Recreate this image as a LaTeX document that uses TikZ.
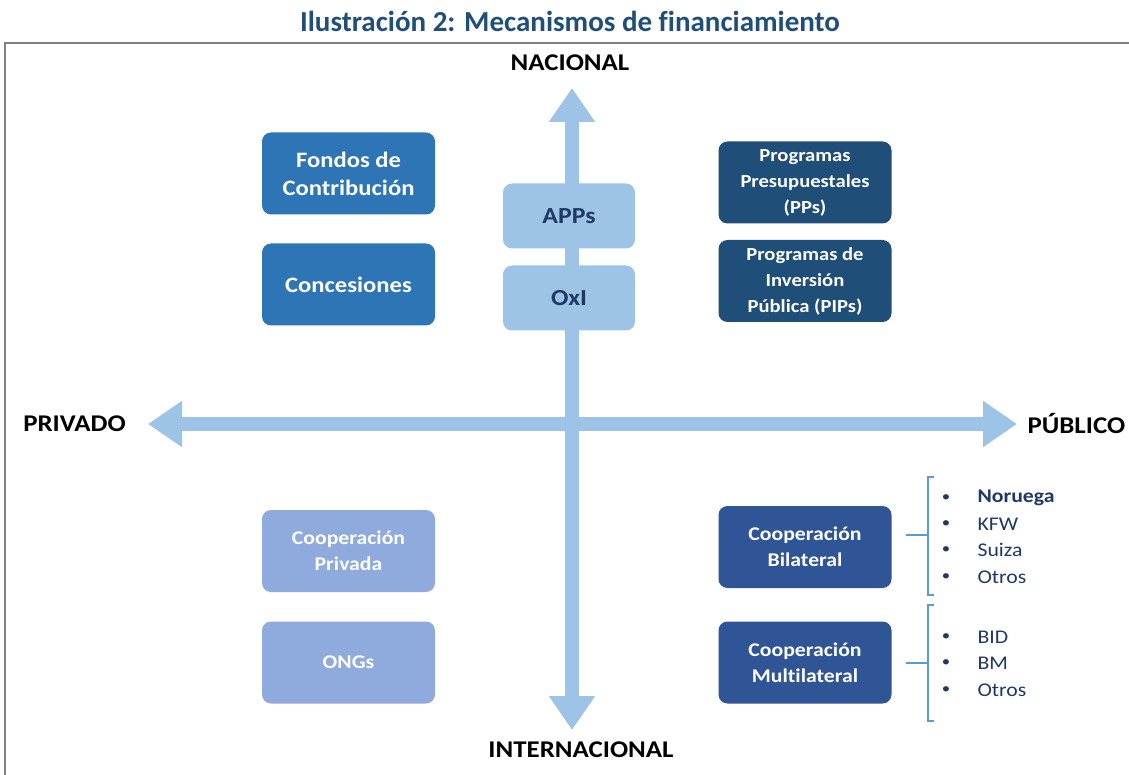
\documentclass[tikz,border=0pt]{standalone}
\usepackage{fontspec}
\setmainfont{Carlito}[Ligatures=NoCommon, FakeStretch=1.12]
\newfontfamily\titlefont{Carlito}[Ligatures=NoCommon]
\usepackage{tikz}
\usetikzlibrary{shapes.geometric, arrows.meta, positioning}

\definecolor{titleblue}{HTML}{1F4E79}
\definecolor{axisblue}{HTML}{9DC3E6}
\definecolor{midblue}{HTML}{2E75B6}
\definecolor{darkblue}{HTML}{1F4E79}
\definecolor{coopblue}{HTML}{2F5597}
\definecolor{paleblue}{HTML}{8FAADC}
\definecolor{navytext}{HTML}{1F3864}
\definecolor{braceblue}{HTML}{5B9BD5}

\tikzset{
	mbox/.style={rounded corners=9pt, minimum width=173pt, minimum height=82pt, align=center,
		text=white, font=\bfseries\fontsize{22}{28}\selectfont},
	fundbox/.style={mbox, fill=midblue},
	progbox/.style={mbox, fill=darkblue, font=\bfseries\fontsize{18.4}{26}\selectfont},
	coopbox/.style={mbox, fill=coopblue, font=\bfseries\fontsize{19.4}{26}\selectfont},
	privbox/.style={mbox, fill=paleblue, font=\bfseries\fontsize{19.4}{26}\selectfont},
	appbox/.style={rounded corners=9pt, minimum width=132pt, minimum height=65pt, fill=axisblue,
		text=navytext, font=\bfseries\fontsize{23}{26}\selectfont},
	axislabel/.style={font=\bfseries\fontsize{24}{26}\selectfont},
	axis/.style={axisblue, line width=14pt, {Triangle[length=34pt,width=44pt]}-{Triangle[length=34pt,width=44pt]}},
	brace/.style={braceblue, line width=2pt},
	item/.style={anchor=west, text=navytext, font=\fontsize{19.4}{22}\selectfont},
	dot/.style={anchor=center, text=navytext, font=\fontsize{15}{22}\selectfont}
}

\begin{document}
\begin{tikzpicture}[x=1pt, y=-1pt]
	\useasboundingbox (0,0) rectangle (1129,775);
	
	% Title and frame
	\node[text=titleblue, font=\titlefont\bfseries\fontsize{29}{32}\selectfont] (title) at (570,21) {Ilustración 2: Mecanismos de financiamiento};
	\draw[gray, line width=2pt] (5,775) -- (5,43) -- (1129,43);
	
	% Axis labels
	\node[axislabel] (nac) at (570,63) {NACIONAL};
	\node[axislabel] (int) at (581,750) {INTERNACIONAL};
	\node[axislabel] (priv) at (74.5,424) {PRIVADO};
	\node[axislabel, anchor=west] (pub) at (1024,424) {PÚBLICO};
	
	% Draw the two axes
	\coordinate (top) at (572,88);
	\coordinate (bottom) at (572,730);
	\coordinate (left) at (148,424);
	\coordinate (right) at (1017,424);
	\draw[axis] (top) -- (bottom);
	\draw[axis] (left) -- (right);
	
	% Boxes on the axis
	\node[appbox] (apps) at (569,216) {APPs};
	\node[appbox] (oxi) at (569,298) {OxI};
	
	% Upper quadrants
	\node[fundbox] (fondos) at (348.5,173.5) {Fondos de\\Contribución};
	\node[fundbox] (conc) at (348.5,284.5) {Concesiones};
	\node[progbox] (pps) at (805,182.5) {Programas\\Presupuestales\\(PPs)};
	\node[progbox] (pips) at (805,281) {Programas de\\Inversión\\Pública (PIPs)};
	
	% Lower quadrants
	\node[privbox] (cpriv) at (348.5,551) {Cooperación\\Privada};
	\node[privbox] (ongs) at (348.5,662.5) {ONGs};
	\node[coopbox] (bil) at (805,547) {Cooperación\\Bilateral};
	\node[coopbox] (mul) at (805,662.5) {Cooperación\\Multilateral};
	
	% Braces for the cooperation lists
	\coordinate (bilarm) at (928,535);
	\coordinate (mularm) at (928,663);
	\draw[brace] (934,477) -- (928,477) -- (928,595) -- (934,595);
	\draw[brace] (bilarm) -- ++(-22,0);
	\draw[brace] (934,605) -- (928,605) -- (928,721) -- (934,721);
	\draw[brace] (mularm) -- ++(-22,0);
	
	% Bilateral list
	\foreach \y/\name/\lbl in {498/nor/\textbf{Noruega}, 524/kfw/KFW, 550/sui/Suiza, 577/otb/Otros}{
		\node[dot] at (946,\y) {•};
		\node[item] (\name) at (974,\y) {\lbl};
	}
	
	% Multilateral list
	\foreach \y/\name/\lbl in {637/bid/BID, 663/bm/BM, 690/otm/Otros}{
		\node[dot] at (946,\y) {•};
		\node[item] (\name) at (974,\y) {\lbl};
	}
\end{tikzpicture}
\end{document}
